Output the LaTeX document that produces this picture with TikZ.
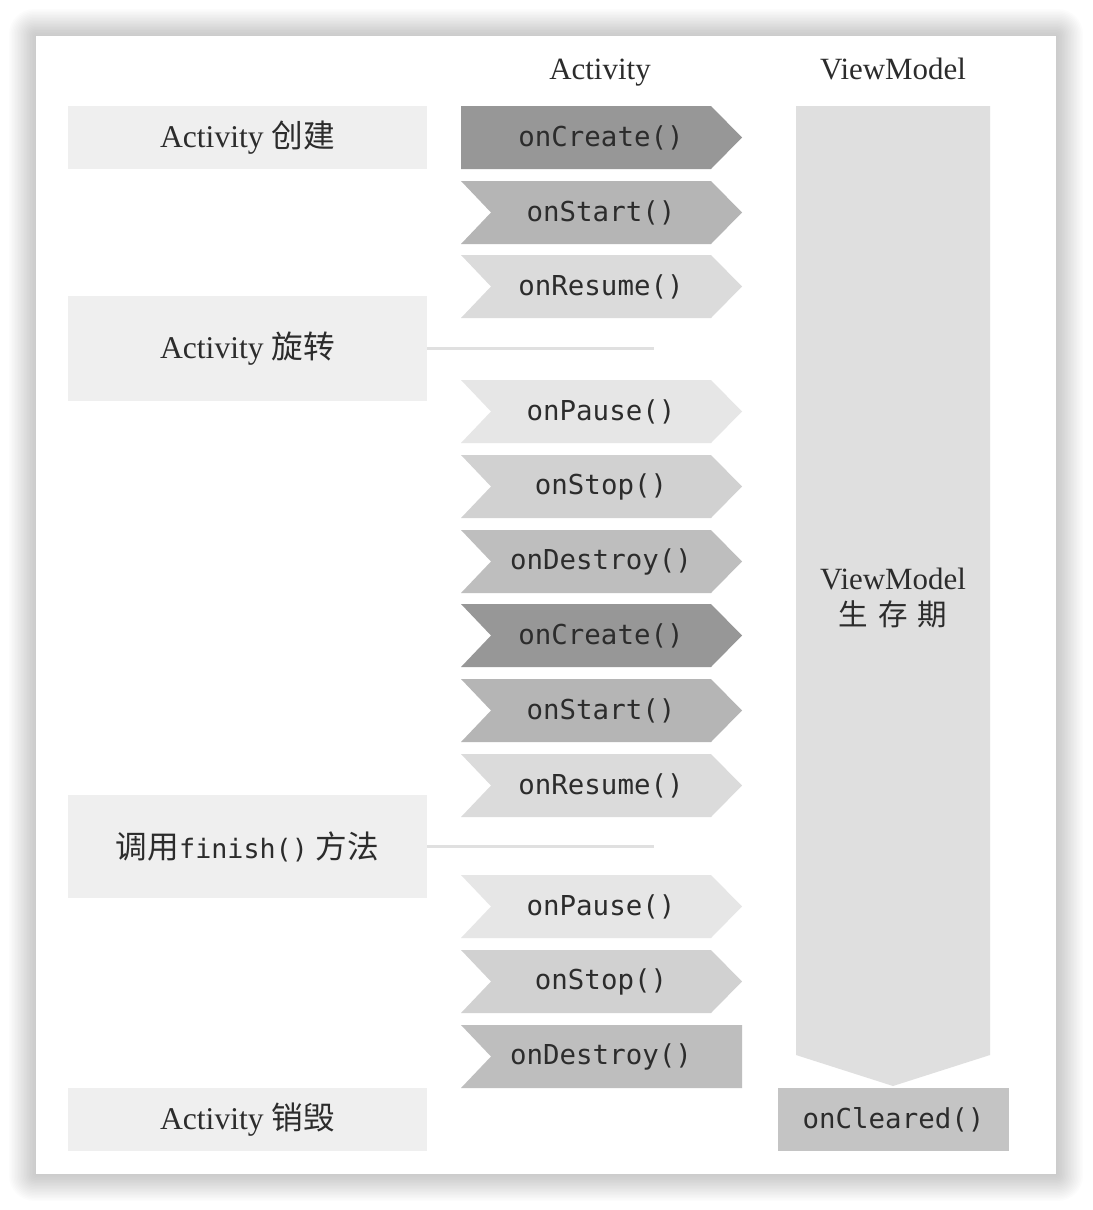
\documentclass[tikz,border=0pt]{standalone}
\usepackage{fontspec}
\setmainfont{Liberation Serif}
\setmonofont{DejaVu Sans Mono}
\newfontfamily\cjk{Noto Sans CJK SC}
\usetikzlibrary{positioning}

\definecolor{inkgray}{HTML}{2C2C2C}
\definecolor{phasegray}{HTML}{EFEFEF}
\definecolor{linkgray}{HTML}{E0E0E0}
\definecolor{vmgray}{HTML}{DFDFDF}
\definecolor{cleargray}{HTML}{C4C4C4}
\definecolor{gcreate}{HTML}{979797}
\definecolor{gstart}{HTML}{B5B5B5}
\definecolor{gresume}{HTML}{DBDBDB}
\definecolor{gpause}{HTML}{E6E6E6}
\definecolor{gstop}{HTML}{D1D1D1}
\definecolor{gdestroy}{HTML}{BEBEBE}

\tikzset{
	head/.style={text=inkgray, font=\fontsize{22}{26}\selectfont},
	phase/.style={fill=phasegray, text=inkgray, minimum width=8.975cm, inner sep=0pt,
		font=\fontsize{22.5}{26}\selectfont},
	method/.style={text=inkgray, inner sep=0pt, font=\ttfamily\fontsize{19.5}{22}\selectfont},
	link/.style={draw=linkgray, line width=2pt},
}

\begin{document}
\begin{tikzpicture}[x=0.025cm, y=-0.025cm]
	\useasboundingbox (0,0) rectangle (1092,1210);

	% card with soft shadow
	\foreach \i in {1,...,18} {
		\fill[black, opacity=0.012, rounded corners=\i pt] (36-1.5*\i, 36-1.5*\i) rectangle (1056+1.5*\i, 1174+1.5*\i);
	};
	\fill[white] (36,36) rectangle (1056,1174);

	\node[head, anchor=base] (hact) at (600,79) {Activity};
	\node[head, anchor=base] (hvm) at (893,79) {ViewModel};

	% left column
	\node[phase, minimum height=1.575cm] (create) at (247.5,137.5) {Activity {\cjk 创建}};
	\node[phase, minimum height=2.625cm] (rotate) at (247.5,348.5) {Activity {\cjk 旋转}};
	\node[phase, minimum height=2.575cm] (finish) at (247.5,846.5) {{\cjk 调用}\texttt{\fontsize{19}{22}\selectfont finish()} {\cjk 方法}};
	\node[phase, minimum height=1.575cm] (destroy) at (247.5,1119.5) {Activity {\cjk 销毁}};

	\coordinate (rotend) at (654,348.5);
	\coordinate (finend) at (654,846.5);
	\draw[link] (rotate.east) -- (rotend);
	\draw[link] (finish.east) -- (finend);

	% activity callbacks
	\foreach \n/\y/\c/\t/\l/\b in {
		m1/106/gcreate/onCreate()/461/711,
		m2/181/gstart/onStart()/491/711,
		m3/255/gresume/onResume()/491/711,
		m4/380/gpause/onPause()/491/711,
		m5/455/gstop/onStop()/491/711,
		m6/530/gdestroy/onDestroy()/491/711,
		m7/604/gcreate/onCreate()/491/711,
		m8/679/gstart/onStart()/491/711,
		m9/754/gresume/onResume()/491/711,
		m10/875/gpause/onPause()/491/711,
		m11/950/gstop/onStop()/491/711,
		m12/1025/gdestroy/onDestroy()/491/742} {
		\fill[\c] (461,\y) -- (\b,\y) -- (742,\y+31.5) -- (\b,\y+63) -- (461,\y+63) -- (\l,\y+31.5) -- cycle;
		\node[method] (\n) at (601,\y+31.5) {\t};
	};

	% viewmodel lifetime
	\fill[vmgray] (796,106) -- (990,106) -- (990,1055) -- (893,1086) -- (796,1055) -- cycle;
	\node[head, align=center] (life) at (893,598) {ViewModel\\[-1pt]{\cjk\fontsize{21}{25}\selectfont 生\,\,存\,\,期}};
	\node[method, fill=cleargray, minimum width=5.775cm, minimum height=1.575cm] (cleared) at (893.5,1119.5) {onCleared()};
\end{tikzpicture}
\end{document}
